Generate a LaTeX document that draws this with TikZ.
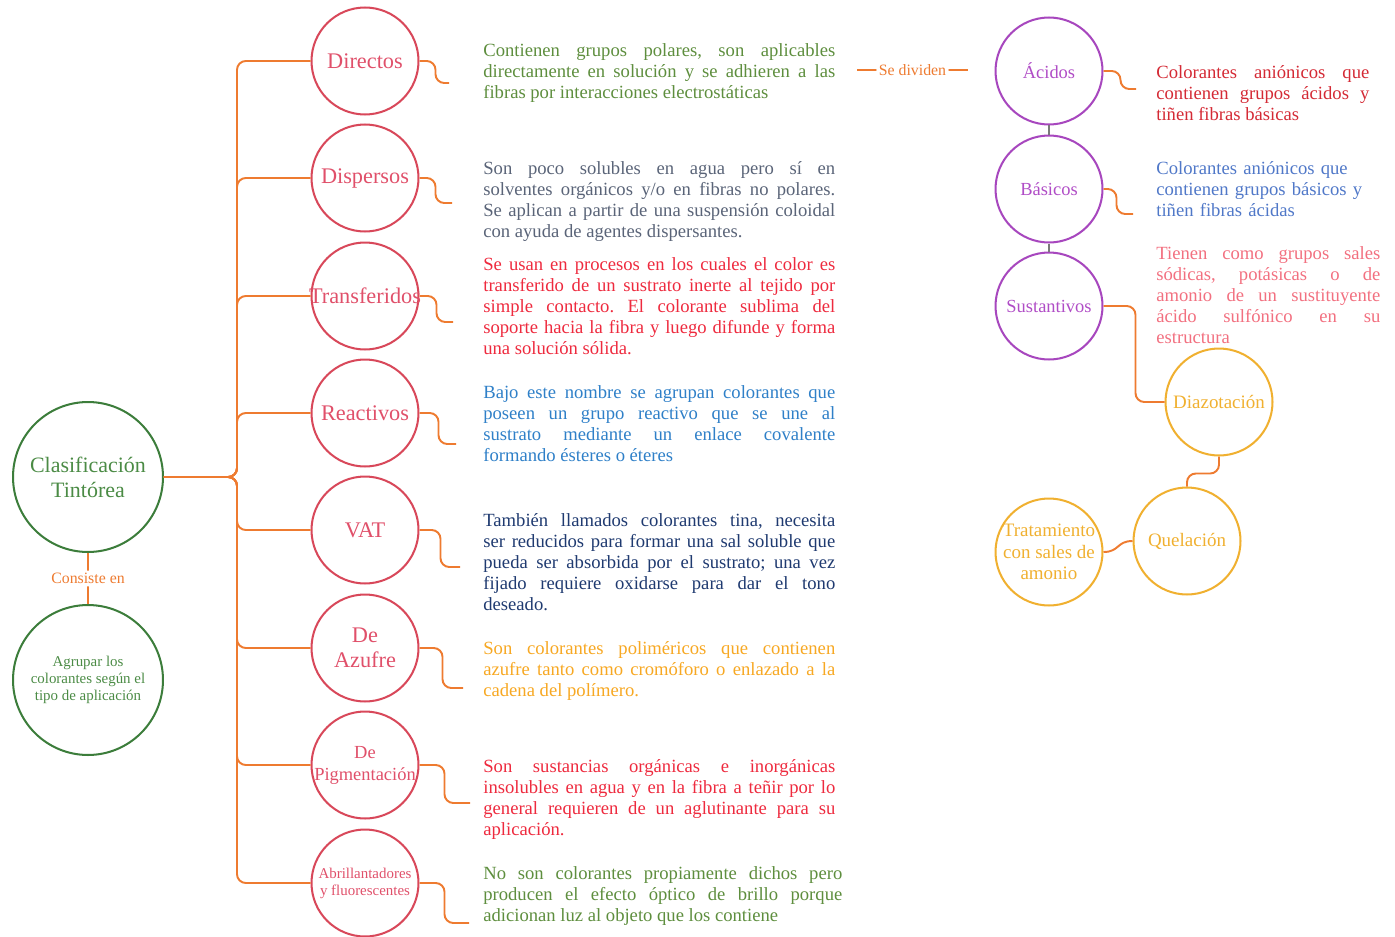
\documentclass[tikz,border=0pt]{standalone}
\usepackage{fontspec}
\setmainfont{Liberation Serif}
\usepackage{xcolor}
\definecolor{linkorange}{HTML}{EE7B30}
\definecolor{linkgray}{HTML}{7A7A7A}
\definecolor{rootgreen}{HTML}{3C7D3B}
\definecolor{rootgreentext}{HTML}{4B8B45}
\definecolor{typered}{HTML}{D8485A}
\definecolor{typeredtext}{HTML}{E0506A}
\definecolor{subpurple}{HTML}{A747BE}
\definecolor{subpurpletext}{HTML}{B04DC6}
\definecolor{procyellow}{HTML}{F0B030}
\definecolor{txtgreen}{HTML}{5E8E3E}
\definecolor{txtslate}{HTML}{5A6478}
\definecolor{txtred}{HTML}{EE2A3E}
\definecolor{txtblue}{HTML}{2F80C8}
\definecolor{txtnavy}{HTML}{1F3A70}
\definecolor{txtamber}{HTML}{F7A823}
\definecolor{txtcrimson}{HTML}{D42A35}
\definecolor{txtsky}{HTML}{5078C8}
\definecolor{txtpink}{HTML}{F27080}
\hyphenpenalty=10000
\frenchspacing
\newcommand\desctxt{\fontsize{10.6}{11.95}\selectfont}
\tikzset{
  circ/.style={circle, draw, line width=1.15pt, minimum size=2.14cm, inner sep=0pt},
  root/.style={circ, draw=rootgreen},
  rootlab/.style={text=rootgreentext, align=center},
  tipo/.style={circ, draw=typered},
  tipolab/.style={font=\fontsize{12.7}{14.2}\selectfont, text=typeredtext, align=center},
  sub/.style={circ, draw=subpurple},
  sublab/.style={font=\fontsize{10.5}{12}\selectfont, text=subpurpletext, align=center},
  proc/.style={circ, draw=procyellow},
  proclab/.style={font=\fontsize{10.8}{12.2}\selectfont, text=procyellow, align=center},
  desc/.style={anchor=north west, inner sep=0pt, text width=7.04cm, align=justify, font=\desctxt},
  sidedesc/.style={anchor=north west, inner sep=0pt, align=justify, font=\desctxt},
  conn/.style={draw=linkorange, line width=1.1pt, rounded corners=5pt},
  graylink/.style={draw=linkgray, line width=1.1pt},
  connlab/.style={fill=white, inner sep=1.5pt, text=linkorange, font=\fontsize{9}{10}\selectfont}
}
\begin{document}
\begin{tikzpicture}[x=0.02cm, y=-0.02cm]
    \useasboundingbox (0,0) rectangle (1395,936);
    % Root and meaning
    \node[root, minimum size=3cm, label={[rootlab, font=\fontsize{12.5}{14.2}\selectfont]center:Clasificación\\Tintórea}] (clasif) at (88,477) {};
    \node[root, minimum size=3cm, label={[rootlab, font=\fontsize{8.5}{9.7}\selectfont]center:Agrupar los\\colorantes según el\\tipo de aplicación}] (agrupar) at (88,680) {};
    \draw[conn] (clasif.south) -- node[connlab] {Consiste en} (agrupar.north);
    \coordinate (tronco) at (237,477);
    % Types (left column)
    \node[tipo, label={[tipolab]center:Directos}] (directos) at (365,61) {};
    \node[tipo, label={[tipolab]center:Dispersos}] (dispersos) at (365,178) {};
    \node[tipo, label={[tipolab]center:Transferidos}] (transf) at (365,296) {};
    \node[tipo, label={[tipolab]center:Reactivos}] (reactivos) at (365,413) {};
    \node[tipo, label={[tipolab]center:VAT}] (vat) at (365,530) {};
    \node[tipo, label={[tipolab]center:De\\Azufre}] (azufre) at (365,648) {};
    \node[tipo, label={[tipolab, font=\fontsize{10.5}{12.5}\selectfont]center:De\\Pigmentación}] (pigment) at (365,765) {};
    \node[tipo, label={[tipolab, font=\fontsize{8.5}{9.7}\selectfont]center:Abrillantadores\\y fluorescentes}] (abrill) at (365,883) {};
    \draw[conn] (clasif.east) -- (tronco) |- (directos.west);
    \draw[conn] (clasif.east) -- (tronco) |- (dispersos.west);
    \draw[conn] (clasif.east) -- (tronco) |- (transf.west);
    \draw[conn] (clasif.east) -- (tronco) |- (reactivos.west);
    \draw[conn] (clasif.east) -- (tronco) |- (vat.west);
    \draw[conn] (clasif.east) -- (tronco) |- (azufre.west);
    \draw[conn] (clasif.east) -- (tronco) |- (pigment.west);
    \draw[conn] (clasif.east) -- (tronco) |- (abrill.west);
    % Descriptions
    \node[desc, text=txtgreen] (dDirectos) at (483,43) {Contienen grupos polares, son aplicables\linebreak directamente en solución y se adhieren a las\linebreak fibras por interacciones electrostáticas};
    \node[desc, text=txtslate] (dDispersos) at (483,161) {Son poco solubles en agua pero sí en\linebreak solventes orgánicos y/o en fibras no polares.\linebreak Se aplican a partir de una suspensión coloidal\linebreak con ayuda de agentes dispersantes.};
    \node[desc, text=txtred] (dTransf) at (483,257) {Se usan en procesos en los cuales el color es\linebreak transferido de un sustrato inerte al tejido por\linebreak simple contacto. El colorante sublima del\linebreak soporte hacia la fibra y luego difunde y forma\linebreak una solución sólida.};
    \node[desc, text=txtblue] (dReactivos) at (483,385) {Bajo este nombre se agrupan colorantes que\linebreak poseen un grupo reactivo que se une al\linebreak sustrato mediante un enlace covalente\linebreak formando ésteres o éteres};
    \node[desc, text=txtnavy] (dVat) at (483,513) {También llamados colorantes tina, necesita\linebreak ser reducidos para formar una sal soluble que\linebreak pueda ser absorbida por el sustrato; una vez\linebreak fijado requiere oxidarse para dar el tono\linebreak deseado.};
    \node[desc, text=txtamber] (dAzufre) at (483,641) {Son colorantes poliméricos que contienen\linebreak azufre tanto como cromóforo o enlazado a la\linebreak cadena del polímero.};
    \node[desc, text=txtred] (dPigment) at (483,759) {Son sustancias orgánicas e inorgánicas\linebreak insolubles en agua y en la fibra a teñir por lo\linebreak general requieren de un aglutinante para su\linebreak aplicación.};
    \node[desc, text=txtgreen, text width=7.18cm] (dAbrill) at (483,866) {No son colorantes propiamente dichos pero\linebreak producen el efecto óptico de brillo porque\linebreak adicionan luz al objeto que los contiene};
    % Hooks towards the descriptions
    \coordinate (eDirectos) at (449,83);
    \coordinate (eDispersos) at (452,203);
    \coordinate (eTransf) at (453,322);
    \coordinate (eReactivos) at (456,444);
    \coordinate (eVat) at (460,567);
    \coordinate (eAzufre) at (463,688);
    \coordinate (ePigment) at (470,803);
    \coordinate (eAbrill) at (469,923);
    \draw[conn] (directos.east) -- ++(16,0) |- (eDirectos);
    \draw[conn] (dispersos.east) -- ++(16,0) |- (eDispersos);
    \draw[conn] (transf.east) -- ++(17,0) |- (eTransf);
    \draw[conn] (reactivos.east) -- ++(19,0) |- (eReactivos);
    \draw[conn] (vat.east) -- ++(21,0) |- (eVat);
    \draw[conn] (azufre.east) -- ++(23,0) |- (eAzufre);
    \draw[conn] (pigment.east) -- ++(25,0) |- (ePigment);
    \draw[conn] (abrill.east) -- ++(25,0) |- (eAbrill);
    % Right side: subdivision
    \coordinate (sdL) at (857,70);
    \coordinate (sdR) at (968,70);
    \draw[conn] (sdL) -- node[connlab] {Se dividen} (sdR);
    \node[sub, label={[sublab]center:Ácidos}] (acidos) at (1049,71) {};
    \node[sub, label={[sublab]center:Básicos}] (basicos) at (1049,189) {};
    \node[sub, label={[sublab]center:Sustantivos}] (sust) at (1049,306) {};
    \draw[graylink] (acidos.south) -- (basicos.north);
    \draw[graylink] (basicos.south) -- (sust.north);
    \node[sidedesc, text=txtcrimson, text width=4.26cm] (dAcidos) at (1156,65) {Colorantes aniónicos que\linebreak contienen grupos ácidos y\linebreak tiñen fibras básicas};
    \node[sidedesc, text=txtsky, text width=4.2cm, align=left] (dBasicos) at (1156,161) {Colorantes aniónicos que\\contienen grupos básicos y\\tiñen fibras ácidas};
    \node[sidedesc, text=txtpink, text width=4.48cm] (dSust) at (1156,246) {Tienen como grupos sales\linebreak sódicas, potásicas o de\linebreak amonio de un sustituyente\linebreak ácido sulfónico en su\linebreak estructura};
    \coordinate (eAcidos) at (1136,89);
    \coordinate (eBasicos) at (1133,214);
    \draw[conn] (acidos.east) -- ++(17,0) |- (eAcidos);
    \draw[conn] (basicos.east) -- ++(13,0) |- (eBasicos);
    % Processes
    \node[proc, label={[proclab]center:Diazotación}] (diazo) at (1219,402) {};
    \node[proc, label={[proclab]center:Quelación}] (quel) at (1187,541) {};
    \node[proc, label={[proclab]center:Tratamiento\\con sales de\\amonio}] (trat) at (1049,552) {};
    \draw[conn] (sust.east) -- ++(32,0) |- (diazo.west);
    \draw[conn] (diazo.south) -- ++(0,17) -| (quel.north);
    \draw[conn] (quel.west) .. controls +(-16,0) and +(16,0) .. (trat.east);
\end{tikzpicture}
\end{document}
